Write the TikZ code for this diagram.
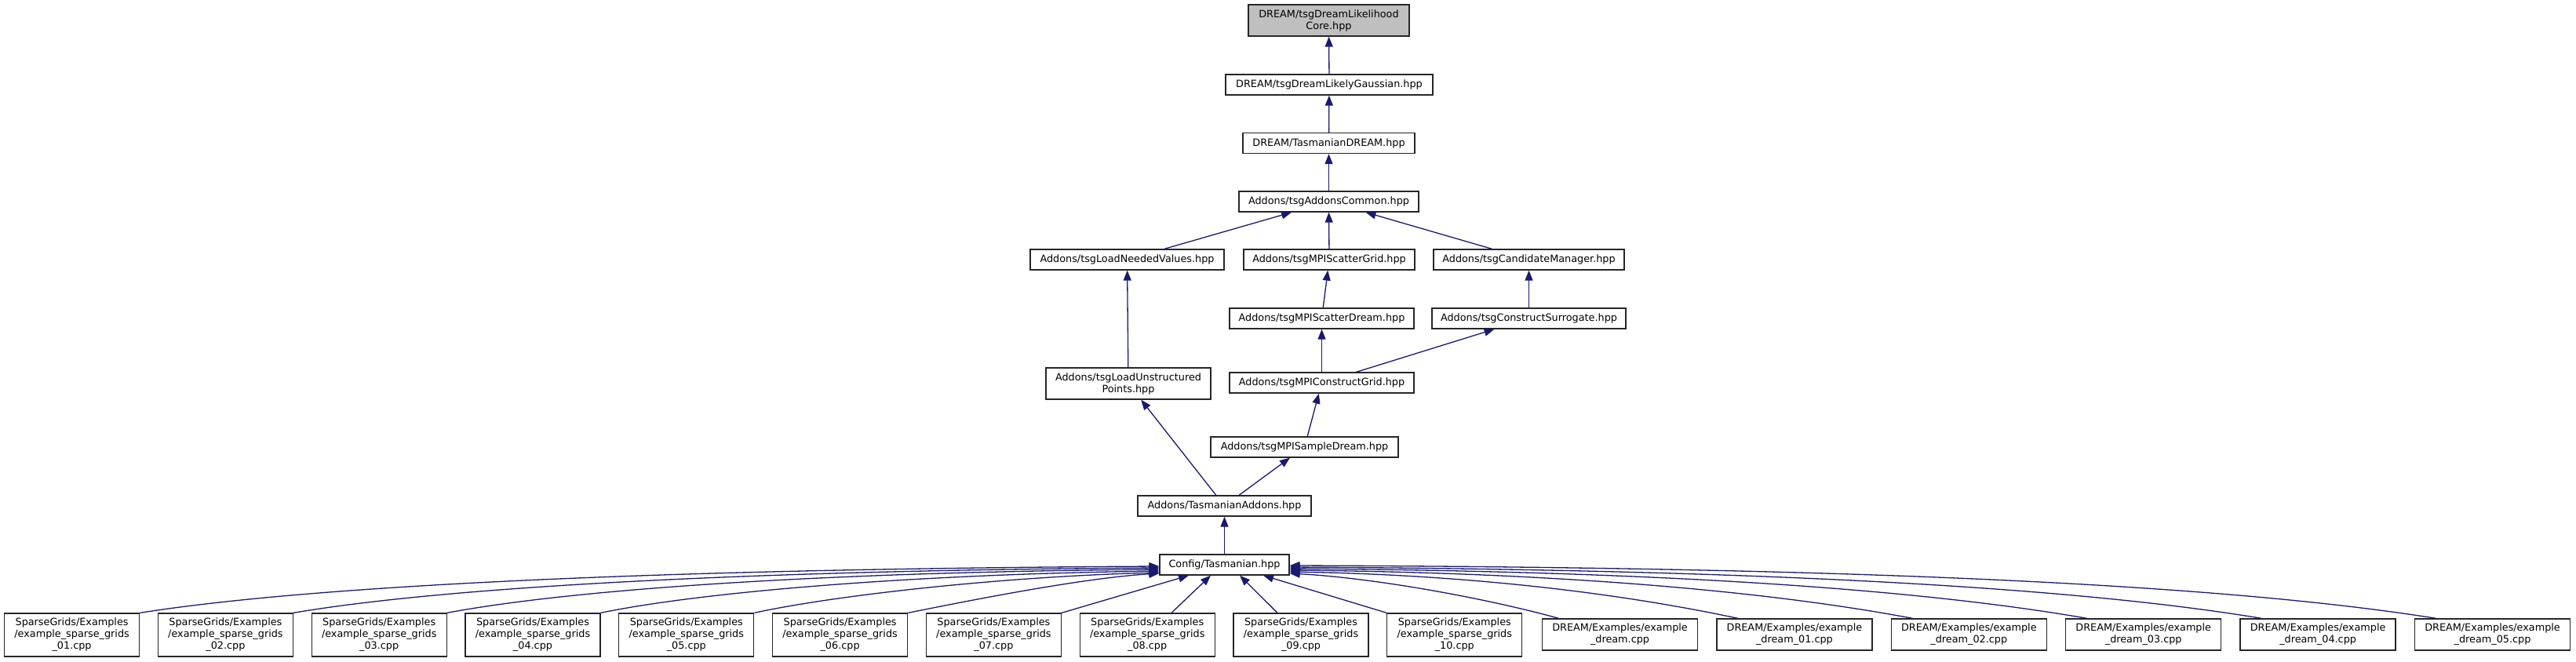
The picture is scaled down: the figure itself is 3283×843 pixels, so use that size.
\documentclass[tikz,border=0pt]{standalone}
\usepackage{fontspec}
\setmainfont{DejaVu Sans}
\usetikzlibrary{arrows.meta}
\definecolor{edgeblue}{HTML}{191970}
\definecolor{topgray}{HTML}{BFBFBF}
\begin{document}
\begin{tikzpicture}[x=1pt,y=-1pt,
  box/.style={draw=black!85, line width=1.3pt, fill=white, inner sep=0pt, align=center,
    font=\fontsize{12.8}{15}\selectfont, minimum height=26pt},
  edge/.style={draw=edgeblue, line width=1.3pt, -{Triangle[length=13pt,width=10pt]}}]
\useasboundingbox (0,0) rectangle (3283,843);
% central column
\node[box, fill=topgray, minimum width=205pt, minimum height=40pt] (top) at (1693.5,26) {DREAM/tsgDreamLikelihood\\Core.hpp};
\node[box, minimum width=264pt] (gauss) at (1694,108) {DREAM/tsgDreamLikelyGaussian.hpp};
\node[box, minimum width=219pt] (tdream) at (1693.5,182.5) {DREAM/TasmanianDREAM.hpp};
\node[box, minimum width=229pt] (common) at (1693.5,257) {Addons/tsgAddonsCommon.hpp};
\node[box, minimum width=247pt] (loadneeded) at (1436.5,331) {Addons/tsgLoadNeededValues.hpp};
\node[box, minimum width=218pt] (scattergrid) at (1694,331) {Addons/tsgMPIScatterGrid.hpp};
\node[box, minimum width=243pt] (candidate) at (1948.5,331) {Addons/tsgCandidateManager.hpp};
\node[box, minimum width=235pt] (scatterdream) at (1684.5,406) {Addons/tsgMPIScatterDream.hpp};
\node[box, minimum width=247pt] (surrogate) at (1948.5,406) {Addons/tsgConstructSurrogate.hpp};
\node[box, minimum width=210pt, minimum height=40pt] (loadunstr) at (1438,489) {Addons/tsgLoadUnstructured\\Points.hpp};
\node[box, minimum width=235pt] (constructgrid) at (1684.5,488) {Addons/tsgMPIConstructGrid.hpp};
\node[box, minimum width=239pt] (sampledream) at (1662.5,570) {Addons/tsgMPISampleDream.hpp};
\node[box, minimum width=221pt] (addons) at (1560.5,645) {Addons/TasmanianAddons.hpp};
\node[box, minimum width=165pt] (config) at (1560.5,720) {Config/Tasmanian.hpp};
% bottom row
\foreach \i/\lab in {1/01,2/02,3/03,4/04,5/05,6/06,7/07,8/08,9/09,10/10} {
  \pgfmathsetmacro{\cx}{91.6+(\i-1)*195.8}
  \node[box, minimum width=172pt, minimum height=55pt] (s\i) at (\cx,809.5)
    {SparseGrids/Examples\\/example\_sparse\_grids\\\_\lab.cpp};
}
\node[box, minimum width=198pt, minimum height=40pt] (d0) at (2064.5,809) {DREAM/Examples/example\\\_dream.cpp};
\foreach \j in {1,...,5} {
  \pgfmathsetmacro{\cx}{2064.5+\j*222.4}
  \node[box, minimum width=198pt, minimum height=40pt] (d\j) at (\cx,809) {DREAM/Examples/example\\\_dream\_0\j.cpp};
}
% straight edges
\draw[edge] (gauss) -- (top);
\draw[edge] (tdream) -- (gauss);
\draw[edge] (common) -- (tdream);
\draw[edge] (loadneeded) -- (common);
\draw[edge] (scattergrid) -- (common);
\draw[edge] (candidate) -- (common);
\draw[edge] (scatterdream) -- (scattergrid);
\draw[edge] (surrogate) -- (candidate);
\draw[edge] (loadunstr) -- (loadneeded);
\draw[edge] (constructgrid) -- (scatterdream);
\draw[edge] (constructgrid) -- (surrogate);
\draw[edge] (sampledream) -- (constructgrid);
\draw[edge] (addons) -- (loadunstr);
\draw[edge] (addons) -- (sampledream);
\draw[edge] (config) -- (addons);
% curved edges from the left
\foreach \i/\ys/\ax/\ay/\bx/\by in {1/-2/240/-38/-580/3, 2/-4/205/-35/-490/3, 3/-6/170/-32/-400/3,
    4/-8/135/-28/-300/4, 5/-10/100/-22/-200/5, 6/-11/70/-14/-100/6} {
  \draw[edge] (s\i.north east) .. controls +(\ax,\ay) and +(\bx,\by) .. ([yshift=\ys pt]config.west);
}
% edges into the bottom of config
\draw[edge] (s7.north east) -- ([xshift=-45.5pt]config.south);
\draw[edge] ([xshift=30.8pt]s8.north) -- ([xshift=-17.5pt]config.south);
\draw[edge] ([xshift=-30pt]s9.north) -- ([xshift=19.5pt]config.south);
\draw[edge] (s10.north west) -- ([xshift=49.5pt]config.south);
% curved edges from the right
\foreach \j/\xs/\ys/\ax/\ay/\bx/\by in {0/-78/-11/-90/-25/110/6, 1/-72/-9/-150/-32/230/4,
    2/-72/-7/-190/-36/330/3, 3/-72/-5/-230/-40/440/3, 4/-72/-3/-265/-44/540/3, 5/-72/-1/-300/-48/640/2} {
  \draw[edge] ([xshift=\xs pt]d\j.north) .. controls +(\ax,\ay) and +(\bx,\by) .. ([yshift=\ys pt]config.east);
}
\end{tikzpicture}
\end{document}
